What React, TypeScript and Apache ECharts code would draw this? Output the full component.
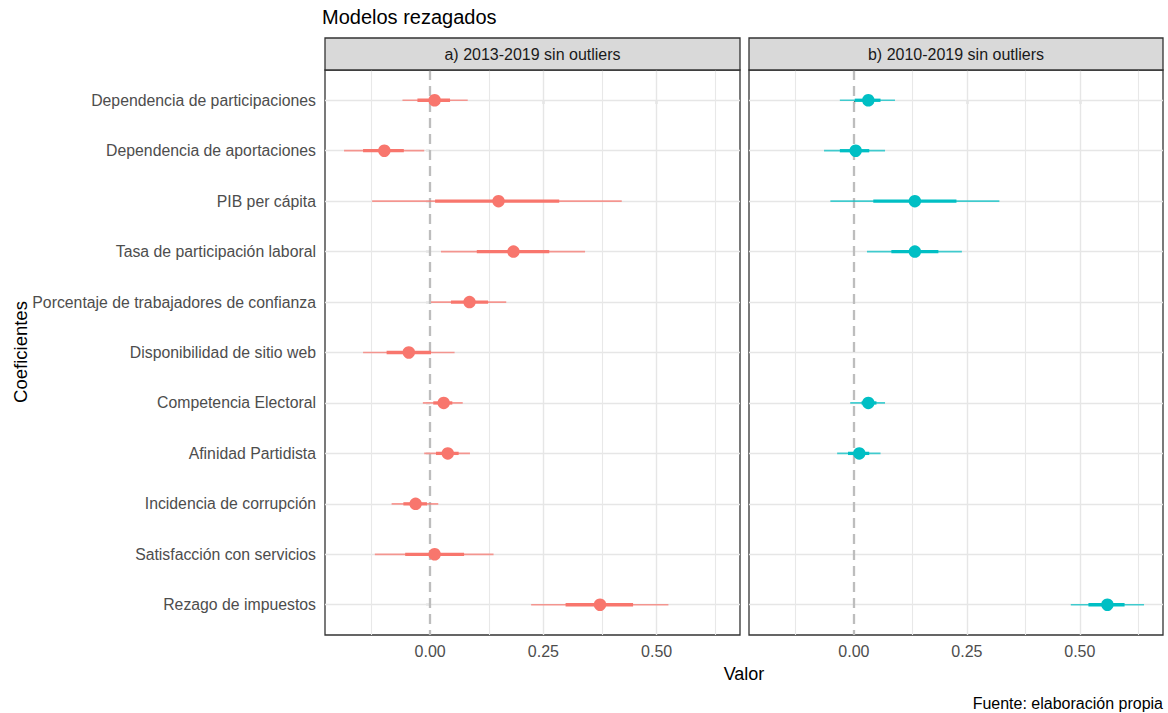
import React, { useEffect, useRef } from "react";
import * as echarts from "echarts";

const categories = [
  "Dependencia de participaciones",
  "Dependencia de aportaciones",
  "PIB per cápita",
  "Tasa de participación laboral",
  "Porcentaje de trabajadores de confianza",
  "Disponibilidad de sitio web",
  "Competencia Electoral",
  "Afinidad Partidista",
  "Incidencia de corrupción",
  "Satisfacción con servicios",
  "Rezago de impuestos",
];

// Panel a) 2013-2019 sin outliers
const estA = [0.010, -0.101, 0.151, 0.184, 0.087, -0.047, 0.030, 0.039, -0.032, 0.010, 0.375];
const lo95A = [-0.061, -0.190, -0.128, 0.024, 0.002, -0.148, -0.016, -0.013, -0.085, -0.122, 0.223];
const hi95A = [0.083, -0.013, 0.423, 0.342, 0.168, 0.054, 0.072, 0.088, 0.018, 0.140, 0.526];
const loInA = [-0.028, -0.148, 0.011, 0.103, 0.046, -0.096, 0.007, 0.013, -0.059, -0.055, 0.299];
const hiInA = [0.044, -0.058, 0.285, 0.263, 0.128, 0.002, 0.049, 0.063, -0.007, 0.075, 0.448];

// Panel b) 2010-2019 sin outliers (null = not in model)
const estB = [0.032, 0.004, 0.135, 0.135, null, null, 0.032, 0.012, null, null, 0.561];
const lo95B = [-0.031, -0.066, -0.052, 0.029, null, null, -0.008, -0.037, null, null, 0.480];
const hi95B = [0.091, 0.069, 0.322, 0.239, null, null, 0.069, 0.059, null, null, 0.642];
const loInB = [0.002, -0.031, 0.043, 0.083, null, null, 0.017, -0.013, null, null, 0.519];
const hiInB = [0.059, 0.034, 0.227, 0.187, null, null, 0.050, 0.034, null, null, 0.599];

const panelTitles = ["a) 2013-2019 sin outliers", "b) 2010-2019 sin outliers"];
const xTicks = [0, 0.25, 0.5];
const xMinor = [-0.125, 0.125, 0.375, 0.625];
const colors = ["#F8766D", "#00BFC4"];

const X_MIN = -0.232;
const X_MAX = 0.684;
const FONT = "'Liberation Sans', Arial, sans-serif";

export default function App() {
  const ref = useRef<HTMLDivElement>(null);

  useEffect(() => {
    document.body.style.margin = "0";
    if (!ref.current) return;
    const chart = echarts.init(ref.current, null, { renderer: "svg" });

    const grids = [
      { left: 325, top: 70, width: 415, height: 565 },
      { left: 749, top: 70, width: 414, height: 565 },
    ];

    const panels = [
      { est: estA, lo95: lo95A, hi95: hi95A, loIn: loInA, hiIn: hiInA },
      { est: estB, lo95: lo95B, hi95: hi95B, loIn: loInB, hiIn: hiInB },
    ];

    const xAxes = grids.map((_, i) => ({
      type: "value",
      gridIndex: i,
      min: X_MIN,
      max: X_MAX,
      axisLine: { show: false },
      splitLine: { show: false },
      axisTick: {
        show: true,
        customValues: xTicks,
        length: 4,
        lineStyle: { color: "#333333", width: 1.2 },
      },
      axisLabel: {
        show: true,
        customValues: xTicks,
        margin: 8,
        fontSize: 16,
        fontFamily: FONT,
        color: "#4D4D4D",
        formatter: (v: number) => v.toFixed(2),
      },
    }));

    const yAxes = grids.map((_, i) => ({
      type: "value",
      gridIndex: i,
      inverse: true,
      min: -0.6,
      max: categories.length - 1 + 0.6,
      axisLine: { show: false },
      splitLine: { show: false },
      axisTick: {
        show: i === 0,
        customValues: categories.map((_, k) => k),
        length: 4,
        lineStyle: { color: "#333333", width: 1.2 },
      },
      axisLabel: {
        show: i === 0,
        customValues: categories.map((_, k) => k),
        margin: 9,
        fontSize: 15.8,
        fontFamily: FONT,
        color: "#4D4D4D",
        formatter: (v: number) => categories[Math.round(v)] ?? "",
      },
    }));

    const series: any[] = [];
    panels.forEach((p, i) => {
      const intervals: any[] = [];
      const points: any[] = [];
      categories.forEach((_, k) => {
        if (p.est[k] == null) return;
        intervals.push([k, p.lo95[k], p.hi95[k], p.loIn[k], p.hiIn[k]]);
        points.push([p.est[k], k]);
      });
      const color = colors[i];
      series.push({
        type: "custom",
        xAxisIndex: i,
        yAxisIndex: i,
        z: 2,
        silent: true,
        encode: { x: [1, 2, 3, 4], y: 0 },
        data: intervals,
        renderItem: (params: any, api: any) => {
          const y = api.value(0);
          const a = api.coord([api.value(1), y]);
          const b = api.coord([api.value(2), y]);
          const c = api.coord([api.value(3), y]);
          const d = api.coord([api.value(4), y]);
          return {
            type: "group",
            children: [
              {
                type: "line",
                shape: { x1: a[0], y1: a[1], x2: b[0], y2: b[1] },
                style: { stroke: color, lineWidth: 1.7, opacity: 0.72 },
              },
              {
                type: "line",
                shape: { x1: c[0], y1: c[1], x2: d[0], y2: d[1] },
                style: { stroke: color, lineWidth: 3.3 },
              },
            ],
          };
        },
      });
      series.push({
        type: "scatter",
        xAxisIndex: i,
        yAxisIndex: i,
        z: 3,
        silent: true,
        symbol: "circle",
        symbolSize: 12.5,
        itemStyle: { color, opacity: 1 },
        data: points,
        markLine: {
          silent: true,
          symbol: "none",
          z: 1,
          animation: false,
          label: { show: false },
          data: [
            ...categories.map((_, k) => ({
              yAxis: k,
              lineStyle: { color: "#E6E6E6", width: 1.4, type: "solid" },
            })),
            ...xMinor.map((v) => ({
              xAxis: v,
              lineStyle: { color: "#E8E8E8", width: 1.1, type: "solid" },
            })),
            ...xTicks.filter((v) => v !== 0).map((v) => ({
              xAxis: v,
              lineStyle: { color: "#E6E6E6", width: 1.4, type: "solid" },
            })),
            {
              xAxis: 0,
              lineStyle: { color: "#BDBDBD", width: 2.3, type: [10, 6] },
            },
          ],
        },
      });
    });

    const graphics: any[] = [];
    grids.forEach((g, i) => {
      graphics.push({
        type: "rect",
        shape: { x: g.left, y: 38, width: g.width, height: 32 },
        style: { fill: "#D9D9D9", stroke: "#333333", lineWidth: 1.3 },
        z: 10,
      });
      graphics.push({
        type: "text",
        x: g.left + g.width / 2,
        y: 54,
        style: {
          text: panelTitles[i],
          fontSize: 16,
          fontFamily: FONT,
          fill: "#1A1A1A",
          align: "center",
          verticalAlign: "middle",
        },
        z: 11,
      });
    });
    graphics.push({
      type: "text",
      x: 744,
      y: 674,
      style: {
        text: "Valor",
        fontSize: 18,
        fontFamily: FONT,
        fill: "#000000",
        align: "center",
        verticalAlign: "middle",
      },
    });
    graphics.push({
      type: "text",
      x: 20,
      y: 352,
      rotation: Math.PI / 2,
      style: {
        text: "Coeficientes",
        fontSize: 18.5,
        fontFamily: FONT,
        fill: "#000000",
        align: "center",
        verticalAlign: "middle",
      },
    });
    graphics.push({
      type: "text",
      x: 1163,
      y: 703,
      style: {
        text: "Fuente: elaboración propia",
        fontSize: 16,
        fontFamily: FONT,
        fill: "#000000",
        align: "right",
        verticalAlign: "middle",
      },
    });

    chart.setOption({
      animation: false,
      backgroundColor: "#FFFFFF",
      title: {
        text: "Modelos rezagados",
        left: 322,
        top: 7,
        padding: 0,
        textStyle: {
          fontSize: 20,
          fontWeight: "normal",
          fontFamily: FONT,
          color: "#000000",
        },
      },
      grid: grids.map((g) => ({
        ...g,
        show: true,
        borderColor: "#333333",
        borderWidth: 1.3,
        backgroundColor: "transparent",
        containLabel: false,
      })),
      xAxis: xAxes,
      yAxis: yAxes,
      series,
      graphic: graphics,
    });

    return () => {
      chart.dispose();
    };
  }, []);

  return <div ref={ref} style={{ width: 1168, height: 713 }} />;
}
